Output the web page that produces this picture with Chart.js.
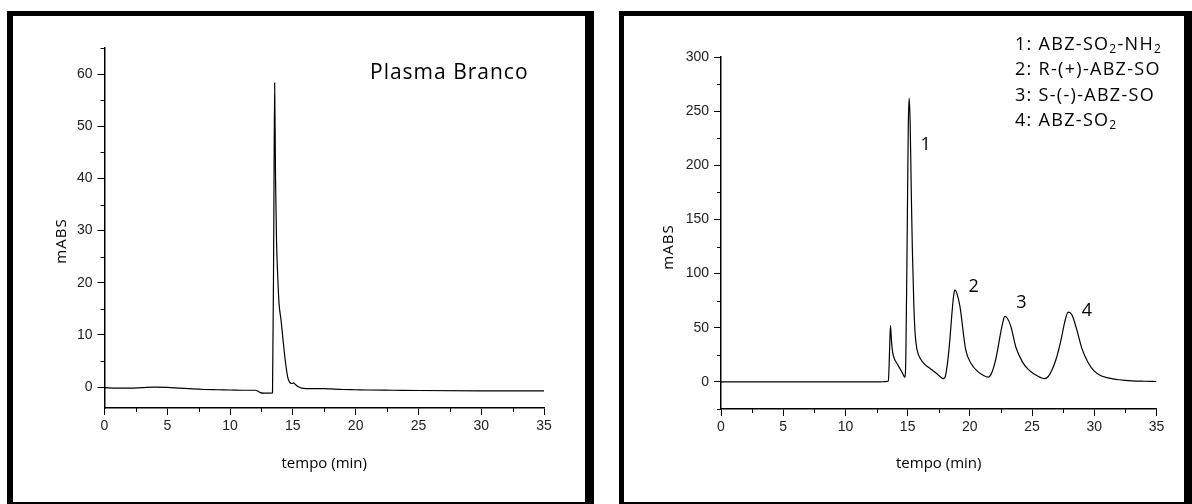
<!DOCTYPE html>
<html>
<head>
<meta charset="utf-8">
<script src="https://cdn.jsdelivr.net/npm/chart.js@4.4.1/dist/chart.umd.min.js"></script>
<style>
    html, body { margin: 0; padding: 0; background: #fff; }
    body { width: 1192px; height: 504px; position: relative; overflow: hidden; }
    .moldura { position: absolute; box-sizing: border-box; border: 5px solid #000; border-right-width: 9px; }
    #molduraA { left: 7px; top: 11px; width: 587px; height: 496px; border-left-width: 6px; }
    #molduraB { left: 619px; top: 11px; width: 574px; height: 496px; }
    canvas { position: absolute; top: 0; }
    #graficoA { left: 0; }
    #graficoB { left: 600px; }
</style>
</head>
<body>
<div class="moldura" id="molduraA"></div>
<div class="moldura" id="molduraB"></div>
<canvas id="graficoA" width="600" height="504"></canvas>
<canvas id="graficoB" width="592" height="504"></canvas>
<script>
// Painel A: plasma branco
const tempoA = [0, 1, 2, 3, 4, 5, 6, 7, 8, 9, 10, 11, 12, 12.2, 12.4, 12.7, 13.0, 13.38,
    13.48, 13.55, 13.62, 13.7, 13.8, 13.9, 14.05, 14.2, 14.4, 14.6, 14.75, 14.9, 15.05, 15.2,
    15.4, 15.7, 16.5, 17.5, 18, 19, 20, 21, 23, 25, 30, 35];
const mabsA = [-0.1, -0.2, -0.2, -0.1, 0, -0.05, -0.2, -0.35, -0.45, -0.5, -0.55, -0.6, -0.6, -0.75, -1.05, -1.15, -1.15, -1.1,
    30, 58.3, 40, 28, 21, 16, 13, 9.5, 5, 1.8, 0.9, 0.7, 0.8, 0.5,
    0.1, -0.2, -0.3, -0.3, -0.35, -0.45, -0.5, -0.55, -0.6, -0.65, -0.7, -0.7];

// Painel B: padrões
const tempoB = [0, 5, 10, 12.8, 13.2, 13.45, 13.55, 13.62, 13.7, 13.8, 13.95, 14.15, 14.35, 14.55, 14.7, 14.77,
    14.85, 14.95, 15.05, 15.12, 15.2, 15.3, 15.38, 15.5, 15.6, 15.75, 16.05, 16.4, 16.85, 17.3, 17.6, 17.88,
    18.0, 18.1, 18.25, 18.4, 18.55, 18.7, 18.8, 18.95, 19.2, 19.66, 20.1, 20.6, 21.1, 21.5,
    21.7, 21.9, 22.1, 22.3, 22.5, 22.65, 22.8, 23.0, 23.3, 23.7, 24.2, 24.65, 25.2, 25.7, 26.0,
    26.3, 26.6, 26.9, 27.1, 27.35, 27.6, 27.9, 28.2, 28.6, 29.0, 29.5, 30.0, 30.5, 31.0, 31.5, 32, 33, 34, 35];
const mabsB = [0, 0, 0, 0, 0.3, 0.8, 30, 52, 38, 27, 21, 17, 13, 9, 5.5, 4.3,
    20, 120, 235, 262, 240, 170, 122, 70, 45, 30, 21, 16, 12, 8, 5, 3,
    4, 9, 22, 40, 62, 80, 85, 82, 70, 30, 17, 10, 6, 4.5,
    7, 13, 22, 34, 47, 55, 60.5, 59, 51, 32, 19, 12, 7, 4, 3,
    5, 11, 20, 28, 40, 54, 64.5, 62, 48, 31, 18, 10, 6, 4, 2.8, 2, 1, 0.6, 0.4];

const ticksX = [0, 5, 10, 15, 20, 25, 30, 35];
const menoresX = [2.5, 7.5, 12.5, 17.5, 22.5, 27.5, 32.5];
const ticksYA = [0, 10, 20, 30, 40, 50, 60];
const menoresYA = [5, 15, 25, 35, 45, 55, 65];
const ticksYB = [0, 50, 100, 150, 200, 250, 300];
const menoresYB = [-25, 25, 75, 125, 175, 225, 275];

const legendaB = [
    ['1: ABZ-SO', { sub: '2' }, '-NH', { sub: '2' }],
    ['2: R-(+)-ABZ-SO'],
    ['3: S-(-)-ABZ-SO'],
    ['4: ABZ-SO', { sub: '2' }]
];
const picosB = [
    { rotulo: '1', t: 16.45, v: 219 },
    { rotulo: '2', t: 20.3, v: 88 },
    { rotulo: '3', t: 24.15, v: 73 },
    { rotulo: '4', t: 29.4, v: 66 }
];

const FONTE_COMIC = "'Comic Sans MS', 'Open Sans', sans-serif";
const FONTE_EIXO = "'Liberation Sans', Arial, sans-serif";

// escreve texto com subscritos (ex: SO2)
function desenharRico(ctx, partes, x, y, tamanho) {
    let cx = x;
    partes.forEach(p => {
        const sub = typeof p !== 'string';
        const txt = sub ? p.sub : p;
        ctx.font = `${sub ? Math.round(tamanho * 0.68) : tamanho}px ${FONTE_COMIC}`;
        ctx.fillText(txt, cx, sub ? y + tamanho * 0.28 : y);
        cx += ctx.measureText(txt).width;
    });
}

const marcasMenores = {
    id: 'marcasMenores',
    afterDraw(chart, args, opts) {
        const ctx = chart.ctx;
        const { x, y } = chart.scales;
        ctx.save();
        ctx.strokeStyle = '#000';
        ctx.lineWidth = 1;
        ctx.beginPath();
        opts.x.forEach(v => {
            const px = Math.round(x.getPixelForValue(v)) + 0.5;
            ctx.moveTo(px, x.top);
            ctx.lineTo(px, x.top + 4);
        });
        opts.y.forEach(v => {
            const py = Math.round(y.getPixelForValue(v)) + 0.5;
            ctx.moveTo(y.right, py);
            ctx.lineTo(y.right - 4, py);
        });
        ctx.stroke();
        ctx.restore();
    }
};

const anotacoes = {
    id: 'anotacoes',
    afterDraw(chart, args, opts) {
        const ctx = chart.ctx;
        ctx.save();
        ctx.fillStyle = '#000';
        ctx.textBaseline = 'middle';
        ctx.textAlign = 'left';
        ctx.letterSpacing = '1px';
        (opts.titulo || []).forEach(t => {
            ctx.font = `${t.tamanho}px ${FONTE_COMIC}`;
            ctx.fillText(t.texto, t.x, t.y);
        });
        ctx.letterSpacing = '1.3px';
        (opts.legenda || []).forEach((linha, i) => {
            desenharRico(ctx, linha, opts.legX, opts.legY + i * opts.legPasso, opts.legTamanho);
        });
        ctx.textAlign = 'center';
        ctx.letterSpacing = '0px';
        (opts.picos || []).forEach(p => {
            ctx.font = `${opts.legTamanho}px ${FONTE_COMIC}`;
            ctx.fillText(p.rotulo, chart.scales.x.getPixelForValue(p.t), chart.scales.y.getPixelForValue(p.v));
        });
        // rótulo do eixo y, um pouco abaixo do centro como no original
        ctx.letterSpacing = '1px';
        ctx.font = `15px ${FONTE_COMIC}`;
        ctx.translate(opts.eixoY.x, opts.eixoY.y);
        ctx.rotate(-Math.PI / 2);
        ctx.fillText('mABS', 0, 0);
        ctx.restore();
    }
};

function criarGrafico(id, tempos, valores, cfg) {
    const pontos = tempos.map((t, i) => ({ x: t, y: valores[i] }));
    const eixoGrade = { display: true, drawOnChartArea: false, drawTicks: true, tickLength: 7, color: '#000', tickColor: '#000', tickWidth: 1 };
    return new Chart(document.getElementById(id), {
        type: 'line',
        data: {
            datasets: [{
                data: pontos,
                borderColor: '#000',
                borderWidth: 1.2,
                pointRadius: 0,
                fill: false,
                cubicInterpolationMode: 'monotone'
            }]
        },
        options: {
            responsive: false,
            animation: false,
            layout: { padding: cfg.padding },
            plugins: {
                legend: { display: false },
                tooltip: { enabled: false },
                marcasMenores: { x: menoresX, y: cfg.menoresY },
                anotacoes: cfg.anotacoes
            },
            scales: {
                x: {
                    type: 'linear', min: 0, max: 35,
                    afterBuildTicks: s => { s.ticks = ticksX.map(v => ({ value: v })); },
                    afterFit: s => { s.height = cfg.alturaX; },
                    grid: eixoGrade,
                    border: { display: true, color: '#000', width: 1.5 },
                    ticks: { font: { family: FONTE_EIXO, size: 14 }, color: '#222', padding: 3, maxRotation: 0 },
                    title: { display: true, text: 'tempo (min)', color: '#000', font: { family: FONTE_COMIC, size: 15 }, padding: { top: 0, bottom: 31 } }
                },
                y: {
                    type: 'linear', min: cfg.minY, max: cfg.maxY,
                    afterBuildTicks: s => { s.ticks = cfg.ticksY.map(v => ({ value: v })); },
                    afterFit: s => { s.width = cfg.larguraY; },
                    grid: eixoGrade,
                    border: { display: true, color: '#000', width: 1.5 },
                    ticks: { font: { family: FONTE_EIXO, size: 14 }, color: '#222', padding: 5 },
                    title: { display: false }
                }
            }
        },
        plugins: [marcasMenores, anotacoes]
    });
}

criarGrafico('graficoA', tempoA, mabsA, {
    padding: { left: 0, top: 48, right: 56, bottom: 0 },
    minY: -4, maxY: 65, ticksY: ticksYA, menoresY: menoresYA,
    larguraY: 104.5, alturaX: 96,
    anotacoes: { titulo: [{ texto: 'Plasma Branco', x: 370, y: 73, tamanho: 21 }], eixoY: { x: 62, y: 241 } }
});

criarGrafico('graficoB', tempoB, mabsB, {
    padding: { left: 0, top: 57, right: 35.5, bottom: 0 },
    minY: -25, maxY: 300, ticksY: ticksYB, menoresY: menoresYB,
    larguraY: 121, alturaX: 95,
    anotacoes: { legenda: legendaB, legX: 415, legY: 45, legPasso: 25.3, legTamanho: 18, picos: picosB, eixoY: { x: 69, y: 247 } }
});
</script>
</body>
</html>
